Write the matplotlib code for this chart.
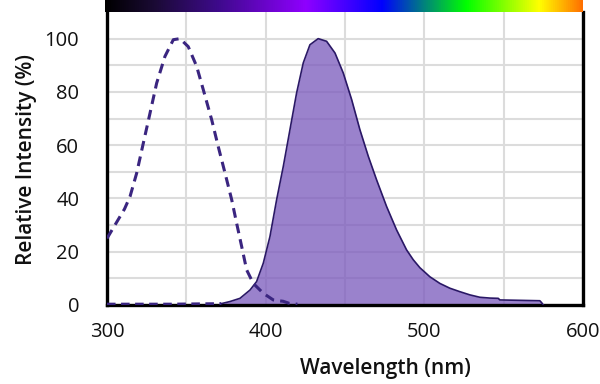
import numpy as np
import matplotlib
matplotlib.use("Agg")
import matplotlib.pyplot as plt
from matplotlib.colors import LinearSegmentedColormap

plt.rcParams['font.family'] = ['Open Sans', 'DejaVu Sans']

# Excitation spectrum (dashed)
ex_wl = [300, 304, 308, 311, 314.5, 318.7, 322.9, 327.1, 331.3, 336.5, 341.8, 346,
         351.2, 356.5, 360.7, 366, 370.1, 374.4, 378.6, 381.7, 384.9, 388, 392.2,
         398.5, 404.8, 408, 411, 415, 420]
ex_val = [25, 29, 33, 36, 40.7, 49.5, 60.8, 72, 83.3, 93.3, 99.6, 100,
          97, 89.6, 80.8, 69.5, 59.5, 49.5, 39.5, 30.7, 21.9, 13.2, 8.1,
          4.4, 1.9, 1.6, 1.4, 0.6, 0.3]

# Emission spectrum (filled)
em_wl = [300, 340, 372, 377.5, 383.8, 390.1, 394.3, 398.5, 402.7, 406.9, 411.1, 415.3,
         419.5, 423.7, 427.9, 433.1, 438.4, 443.7, 448.9, 454.2, 459.4, 464.7,
         469.9, 476.2, 482.5, 488.8, 493, 497.2, 503.5, 509.8, 516.1, 522.4, 528.7,
         535, 541.3, 546.6, 547.6, 572.8, 573.9, 575]
em_val = [0.3, 0.3, 0.5, 1.3, 2.5, 5.6, 8.8, 15.7, 25.7, 39.5, 52, 65.8,
          79.6, 90.9, 97.7, 100, 99, 94.6, 87.1, 77.1, 65.8, 55.8,
          47, 37, 28.2, 20.7, 17, 14, 10.6, 8.1, 6.3, 5, 3.8,
          2.9, 2.6, 2.5, 1.9, 1.6, 0.9, 0]

x_ticks = [300, 400, 500, 600]
y_ticks = [0, 20, 40, 60, 80, 100]

# spectrum colour bar stops
spec_wl = [300, 330, 370, 426, 474, 500, 527, 573, 600]
spec_col = ['#000000', '#1a0a33', '#3d0a8a', '#8f00ff', '#0000ff', '#00807f',
            '#00ff00', '#ffff00', '#ff7000']

fig = plt.figure(figsize=(6.0, 3.84), dpi=100)
ax = fig.add_axes([107/600, 1-305/384, 476/600, 293/384])

ax.set_xlim(300, 600)
ax.set_ylim(0, 110)
ax.set_xticks(x_ticks)
ax.set_yticks(y_ticks)
ax.set_xticks(np.arange(350, 600, 50), minor=True)
ax.set_yticks(np.arange(10, 110, 10), minor=True)
ax.grid(True, which='both', color='#dcdcdc', linewidth=1.5, zorder=0)
ax.set_axisbelow(True)
ax.tick_params(which='both', length=0)
ax.tick_params(axis='x', pad=12, labelsize=14.5, colors='#111111')
ax.tick_params(axis='y', pad=20, labelsize=14.5, colors='#111111')

em_wl_a = np.array(em_wl)
em_val_a = np.array(em_val)
mask = em_wl_a >= 372
ax.fill_between(em_wl_a[mask], em_val_a[mask], 0, color='#7958bc', alpha=0.75,
                linewidth=0, zorder=2)
ax.plot(em_wl_a[mask], em_val_a[mask], color='#2a1866', linewidth=1.2, zorder=3)
ax.plot(em_wl_a[~mask | (em_wl_a == 372)], em_val_a[~mask | (em_wl_a == 372)],
        color='#3a2580', linewidth=2.2, dashes=(2.8, 1.8), zorder=3)
ax.plot(ex_wl, ex_val, color='#3a2580', linewidth=2.2, dashes=(3.2, 2.0), zorder=4)

for side in ['left', 'right', 'bottom']:
    ax.spines[side].set_color('black')
    ax.spines[side].set_linewidth(2.4)
ax.spines['top'].set_visible(False)

ax.set_xlabel('Wavelength (nm)', fontsize=15, fontweight='semibold', color='#111111')
ax.xaxis.set_label_coords(0.584, -0.18)
ax.set_ylabel('Relative Intensity (%)', fontsize=15, fontweight='semibold', color='#111111')
ax.yaxis.set_label_coords(-0.148, 0.498)

# spectrum bar
cax = fig.add_axes([105/600, 1-12/384, 478/600, 12/384])
pos = [(w - 300) / 300 for w in spec_wl]
cmap = LinearSegmentedColormap.from_list('spec', list(zip(pos, spec_col)))
grad = np.linspace(0, 1, 512).reshape(1, -1)
cax.imshow(grad, aspect='auto', cmap=cmap, extent=[300, 600, 0, 1])
cax.set_axis_off()

fig.savefig('out.png', dpi=100)
